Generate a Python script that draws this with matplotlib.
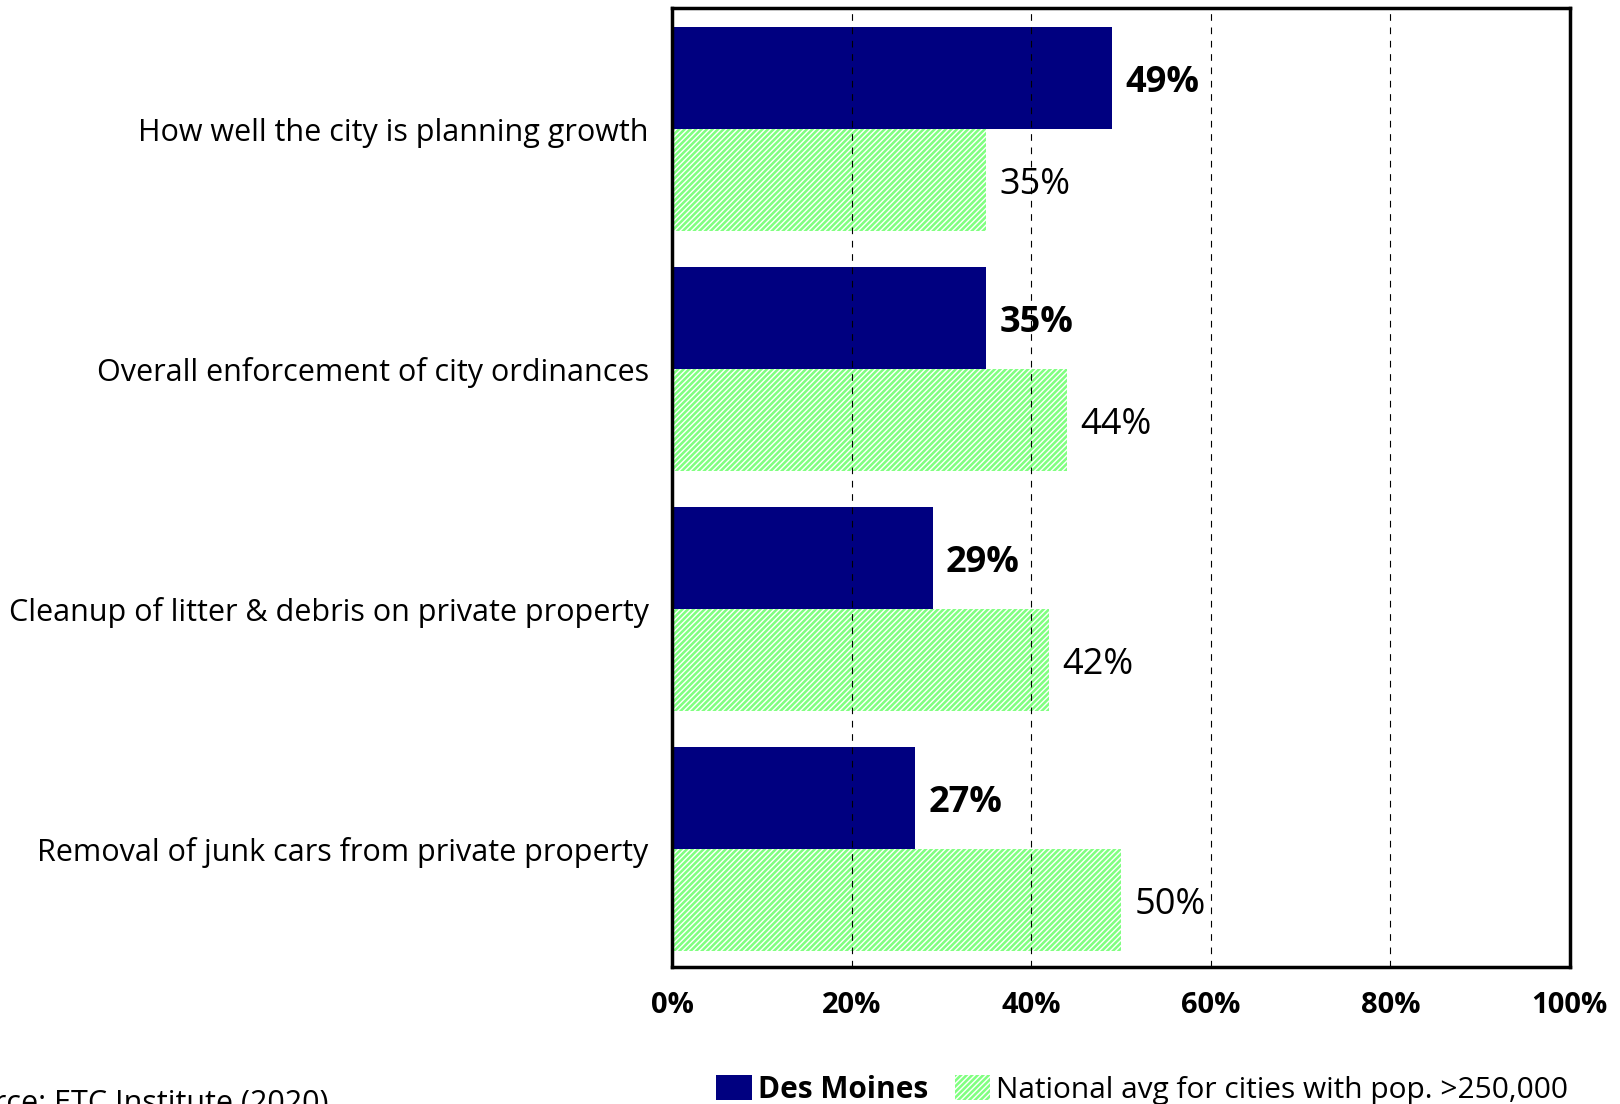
import matplotlib
matplotlib.use("Agg")
import matplotlib.pyplot as plt
import matplotlib.patches as mpatches
import numpy as np

plt.rcParams['font.family'] = ['Open Sans', 'DejaVu Sans']
plt.rcParams['hatch.linewidth'] = 1.0

categories = [
    "How well the city is planning growth",
    "Overall enforcement of city ordinances",
    "Cleanup of litter & debris on private property",
    "Removal of junk cars from private property",
]
des_moines = [49, 35, 29, 27]
national = [35, 44, 42, 50]
xticks = [0, 20, 40, 60, 80, 100]
series_names = ["Des Moines", "National avg for cities with pop. >250,000"]
source = "Source: ETC Institute (2020)"

navy = "#000080"
green = "#80FF80"

fig = plt.figure(figsize=(16.2, 11.04), dpi=100)
ax = fig.add_axes([0.415, 0.124, 0.554, 0.8685])

y = np.arange(len(categories))
h = 0.425
ax.barh(y - h / 2, des_moines, height=h, color=navy, linewidth=0)
ax.barh(y + h / 2, national, height=h, color=green, edgecolor="white",
        hatch="//////", linewidth=0)

for yi, v in zip(y, des_moines):
    ax.text(v + 1.5, yi - h / 2 + 0.02, f"{v}%", va="center", ha="left",
            fontsize=26, fontweight="bold")
for yi, v in zip(y, national):
    ax.text(v + 1.5, yi + h / 2 + 0.02, f"{v}%", va="center", ha="left",
            fontsize=26)

ax.set_xlim(0, 100)
ax.set_ylim(3.49, -0.503)
ax.set_xticks(xticks)
ax.set_xticklabels([f"{t}%" for t in xticks], fontsize=21, fontweight="bold")
ax.set_yticks(y)
ax.set_yticklabels(categories, fontsize=22)
ax.tick_params(axis="both", length=0)
ax.tick_params(axis="x", pad=17)
ax.tick_params(axis="y", pad=17)
ax.grid(axis="x", color="black", linestyle=(0, (6, 6)), linewidth=0.8)
ax.set_axisbelow(False)
for s in ax.spines.values():
    s.set_linewidth(2.5)

handles = [mpatches.Patch(facecolor=navy, linewidth=0),
           mpatches.Patch(facecolor=green, edgecolor="white", hatch="//////", linewidth=0)]
leg = fig.legend(handles, series_names, loc="center", bbox_to_anchor=(0.705, 0.013),
                 ncol=2, frameon=False, fontsize=21.5, handlelength=1.2,
                 handleheight=0.9, handletextpad=0.2, columnspacing=0.9)
leg.get_texts()[0].set_fontweight("bold")

fig.text(0.203, 0.0, source, ha="right", va="center", fontsize=22)

fig.savefig("out.png", dpi=100)
